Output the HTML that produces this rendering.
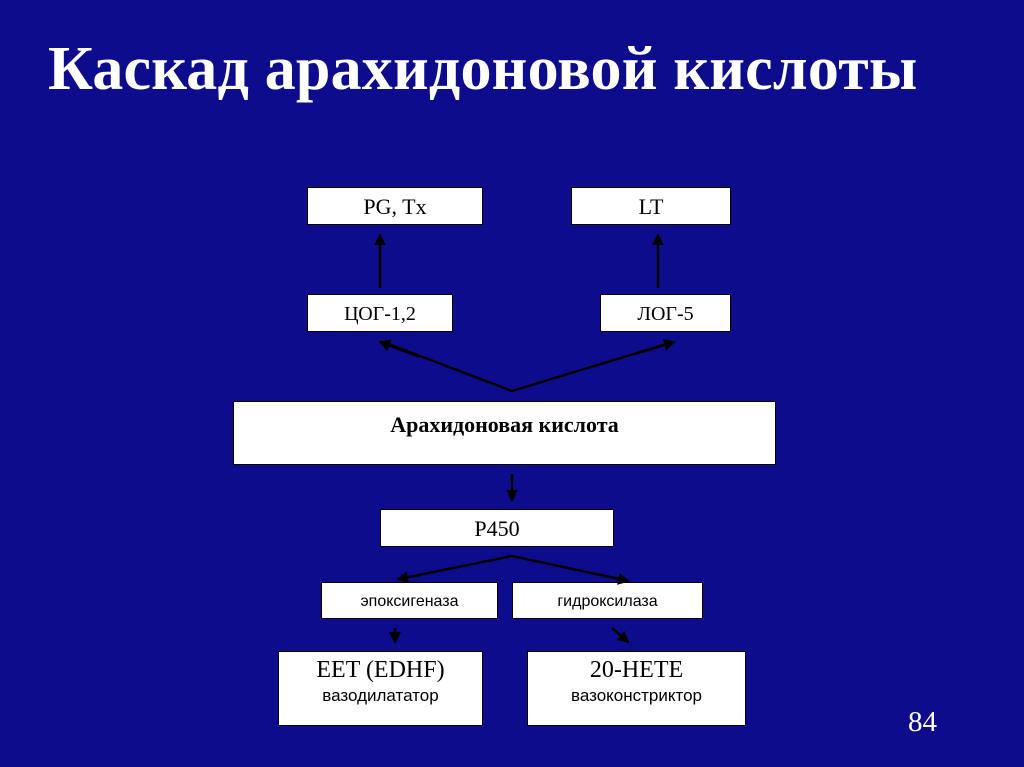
<!DOCTYPE html>
<html><head><meta charset="utf-8"><style>
body{margin:0;width:1024px;height:767px;background:#0c0c8c;position:relative;overflow:hidden;font-family:"Liberation Serif",serif}
.t{position:absolute;left:48px;top:34px;font-size:62px;font-weight:bold;color:#fff;white-space:nowrap;letter-spacing:0.2px}
.b{position:absolute;background:#fff;border:1px solid #000;box-sizing:border-box;text-align:center;color:#000}
.s{font-family:"Liberation Sans",sans-serif}
.n{position:absolute;left:908px;top:706px;color:#fff;font-size:29px}
</style></head><body>
<div class="t">Каскад арахидоновой кислоты</div>
<div class="b" style="left:307px;top:187px;width:176px;height:38px;font-size:22px;line-height:38px">PG, Tx</div>
<div class="b" style="left:571px;top:187px;width:160px;height:38px;font-size:22px;line-height:38px">LT</div>
<div class="b" style="left:307px;top:294px;width:146px;height:38px;font-size:20px;line-height:38px">ЦОГ-1,2</div>
<div class="b" style="left:600px;top:294px;width:131px;height:38px;font-size:20px;line-height:38px">ЛОГ-5</div>
<div class="b" style="left:233px;top:401px;width:543px;height:64px;font-size:22px;font-weight:bold;line-height:46px">Арахидоновая кислота</div>
<div class="b" style="left:380px;top:509px;width:234px;height:38px;font-size:22px;line-height:38px">P450</div>
<div class="b s" style="left:321px;top:582px;width:177px;height:37px;font-size:16px;line-height:37px">эпоксигеназа</div>
<div class="b s" style="left:512px;top:582px;width:191px;height:37px;font-size:16px;line-height:37px">гидроксилаза</div>
<div class="b" style="left:278px;top:651px;width:205px;height:75px;padding-top:5px"><div style="font-size:24px;line-height:26px">EET (EDHF)</div><div class="s" style="font-size:17px;line-height:26px">вазодилататор</div></div>
<div class="b" style="left:527px;top:651px;width:219px;height:75px;padding-top:5px"><div style="font-size:24px;line-height:26px">20-HETE</div><div class="s" style="font-size:17px;line-height:26px">вазоконстриктор</div></div>
<div class="n">84</div>
<svg width="1024" height="767" style="position:absolute;left:0;top:0">
<defs><marker id="a" markerWidth="12" markerHeight="12" refX="10" refY="6" orient="auto" markerUnits="userSpaceOnUse"><path d="M0,0 L12,6 L0,12 z" fill="#000"/></marker></defs>
<g stroke="#000" stroke-width="2.5" fill="none">
<line x1="380" y1="288" x2="380" y2="235" marker-end="url(#a)"/>
<line x1="658" y1="288" x2="658" y2="235" marker-end="url(#a)"/>
<polyline points="386,343 512,391 670,343"/>
<line x1="420" y1="357" x2="380" y2="342" marker-end="url(#a)"/>
<line x1="635" y1="354" x2="674" y2="342" marker-end="url(#a)"/>
<line x1="512" y1="474" x2="512" y2="500" marker-end="url(#a)"/>
<polyline points="404,578 512,556 624,580"/>
<line x1="420" y1="575" x2="398" y2="579" marker-end="url(#a)"/>
<line x1="605" y1="576" x2="628" y2="581" marker-end="url(#a)"/>
<line x1="395" y1="628" x2="395" y2="642" marker-end="url(#a)"/>
<line x1="612" y1="628" x2="628" y2="642" marker-end="url(#a)"/>
</g></svg>
</body></html>
